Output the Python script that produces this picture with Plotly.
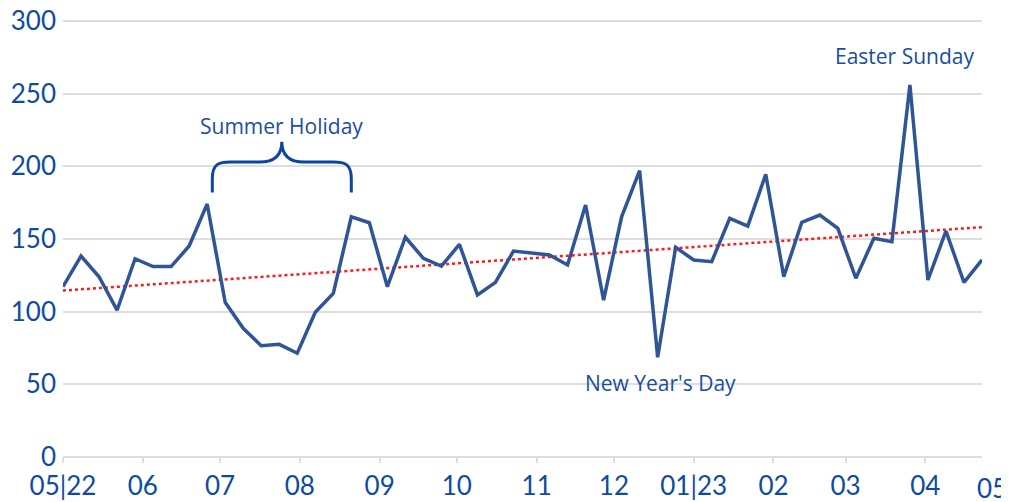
import numpy as np
import pandas as pd
import plotly.graph_objects as go

# ---- data ----
start_date = "2022-05-01"
values = [117.2, 138.3, 124.0, 101.1, 136.4, 131.0, 131.0, 145.2, 174.1, 106.5,
          88.6, 76.6, 77.5, 71.4, 99.6, 112.6, 165.3, 161.2, 117.2, 151.2,
          136.7, 131.4, 146.3, 111.5, 120.2, 141.7, 140.4, 139.0, 132.1, 173.4,
          108.0, 165.3, 197.0, 68.6, 144.3, 135.6, 134.4, 164.2, 158.9, 194.5,
          124.1, 161.5, 166.5, 157.3, 123.0, 150.5, 148.2, 256.0, 121.8, 155.5,
          120.2, 135.6]
month_ticks = ["2022-05-01", "2022-06-01", "2022-07-01", "2022-08-01", "2022-09-01",
               "2022-10-01", "2022-11-01", "2022-12-01", "2023-01-01", "2023-02-01",
               "2023-03-01", "2023-04-01"]
month_labels = ["05|22", "06", "07", "08", "09", "10", "11", "12", "01|23", "02", "03", "04"]
last_label = "05"
y_ticks = [0, 50, 100, 150, 200, 250, 300]

annot_texts = ["Summer Holiday", "Easter Sunday", "New Year's Day"]
annot_dates = ["2022-07-25", "2023-03-24", "2022-12-19"]
annot_values = [227.5, 276, 51]

brace_start, brace_end = "2022-06-28", "2022-08-21"
brace_base, brace_mid, brace_tip = 182, 203, 217

dates = pd.date_range(start_date, periods=len(values), freq="7D")

# trend line (OLS)
days = (dates - dates[0]).days.values.astype(float)
slope, intercept = np.polyfit(days, values, 1)
trend = slope * days + intercept

BLUE_TXT = "#0D4C9F"
LINE = "#2F5597"
GRID = "#DEDEDE"

fig = go.Figure()
fig.add_trace(go.Scatter(x=dates, y=trend, mode="lines",
                         line=dict(color="#FF1A1A", width=2.5, dash="dot"),
                         hoverinfo="skip", showlegend=False))
fig.add_trace(go.Scatter(x=dates, y=values, mode="lines",
                         line=dict(color=LINE, width=3.5), showlegend=False))

# annotations
for t, d, v in zip(annot_texts, annot_dates, annot_values):
    fig.add_annotation(x=d, y=v, xref="x", yref="y", text=t, showarrow=False,
                       font=dict(family="Open Sans", size=21, color="#1A4E9E"),
                       xanchor="center", yanchor="middle")

fig.add_annotation(x=1.011, y=-0.071, xref="paper", yref="paper", text=last_label,
                   showarrow=False, font=dict(family="Lato", size=26, color=BLUE_TXT),
                   xanchor="center", yanchor="middle")

# curly brace shape over summer holiday
b0 = pd.Timestamp(brace_start)
b1 = pd.Timestamp(brace_end)
span = b1 - b0
def fx(f):
    return (b0 + span * f).strftime("%Y-%m-%d_%H:%M:%S")
ylow = brace_base + (brace_mid - brace_base) * 0.45
path = (f"M {fx(0)},{brace_base} L {fx(0)},{ylow} "
        f"C {fx(0)},{brace_mid - 1} {fx(0.05)},{brace_mid} {fx(0.13)},{brace_mid} "
        f"L {fx(0.34)},{brace_mid} "
        f"C {fx(0.44)},{brace_mid} {fx(0.5)},{brace_mid + 4} {fx(0.5)},{brace_tip} "
        f"C {fx(0.5)},{brace_mid + 4} {fx(0.56)},{brace_mid} {fx(0.66)},{brace_mid} "
        f"L {fx(0.87)},{brace_mid} "
        f"C {fx(0.95)},{brace_mid} {fx(1)},{brace_mid - 1} {fx(1)},{ylow} "
        f"L {fx(1)},{brace_base}")
fig.add_shape(type="path", path=path, xref="x", yref="y",
              line=dict(color="#0B47A0", width=3))

fig.update_layout(
    width=1001, height=494,
    margin=dict(l=55, r=27, t=12, b=45),
    paper_bgcolor="white", plot_bgcolor="white",
    font=dict(family="Lato", size=26, color=BLUE_TXT),
    xaxis=dict(range=[dates[0], dates[-1]], tickmode="array",
               tickvals=month_ticks, ticktext=month_labels, automargin=False,
               showgrid=False, ticks="outside", ticklen=5, tickwidth=1.5,
               tickcolor=GRID, showline=False, zeroline=False,
               ticklabelstandoff=1, ticklabeloverflow="allow",
               tickfont=dict(family="Lato", size=26, color=BLUE_TXT)),
    yaxis=dict(range=[0, 300.7], tickvals=y_ticks, showgrid=True, gridcolor=GRID,
               gridwidth=1.5, zeroline=True, zerolinecolor=GRID, zerolinewidth=1.5,
               ticks="", showline=False, automargin=False, ticklabelstandoff=6,
               ticklabeloverflow="allow",
               tickfont=dict(family="Lato", size=26, color=BLUE_TXT)),
)

fig.write_html("out.html")
